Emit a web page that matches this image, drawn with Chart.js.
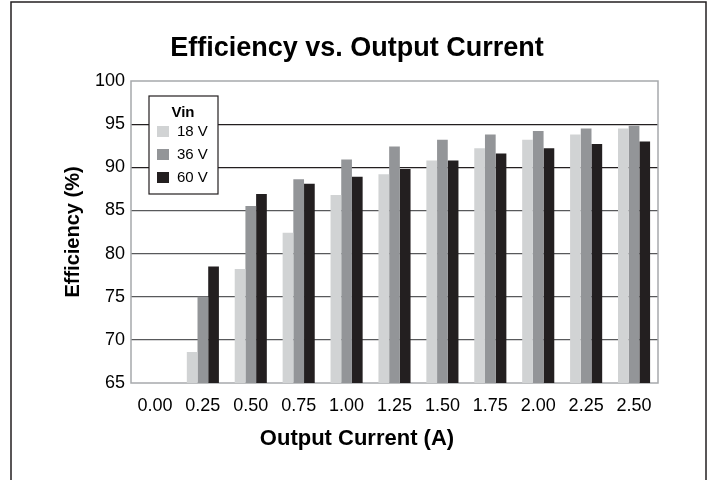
<!DOCTYPE html>
<html>
<head>
<meta charset="utf-8">
<script src="https://cdn.jsdelivr.net/npm/chart.js@4.4.1/dist/chart.umd.min.js"></script>
<style>
  html, body { margin: 0; padding: 0; background: #fff; }
  #wrap { position: relative; width: 714px; height: 480px; }
</style>
</head>
<body>
<div id="wrap"><canvas id="myChart" width="714" height="480"></canvas></div>
<script>
const currents = ["0.00", "0.25", "0.50", "0.75", "1.00", "1.25", "1.50", "1.75", "2.00", "2.25", "2.50"];
const eff18 = [null, 68.6, 78.2, 82.4, 86.8, 89.2, 90.8, 92.2, 93.2, 93.8, 94.5];
const eff36 = [null, 75.0, 85.5, 88.6, 90.9, 92.4, 93.2, 93.8, 94.2, 94.5, 94.8];
const eff60 = [null, 78.5, 86.9, 88.1, 88.9, 89.8, 90.8, 91.6, 92.2, 92.7, 93.0];
const seriesLabels = ["18 V", "36 V", "60 V"];
const yTicks = [65, 70, 75, 80, 85, 90, 95, 100];

const FONT = "'Liberation Sans', Arial, Helvetica, sans-serif";

// plot frame, outer frame and the boxed "Vin" legend
const framePlugin = {
  id: "frame",
  beforeDatasetsDraw(chart) {
    const { ctx, chartArea: a } = chart;
    ctx.save();
    ctx.strokeStyle = "#a7a9ac";
    ctx.lineWidth = 1.5;
    ctx.strokeRect(a.left, a.top, a.right - a.left, a.bottom - a.top);
    ctx.restore();
  },
  afterDraw(chart) {
    const { ctx, chartArea: a } = chart;
    ctx.save();
    ctx.strokeStyle = "#231f20";
    ctx.lineWidth = 1.5;
    ctx.strokeRect(11, 2, 695, 520);

    const bx = a.left + 18, by = a.top + 15, bw = 69, bh = 98;
    ctx.fillStyle = "#fff";
    ctx.fillRect(bx, by, bw, bh);
    ctx.lineWidth = 1.2;
    ctx.strokeRect(bx, by, bw, bh);

    ctx.fillStyle = "#000";
    ctx.textBaseline = "middle";
    ctx.textAlign = "center";
    ctx.font = "bold 15px " + FONT;
    ctx.fillText("Vin", bx + 34, by + 17);

    ctx.textAlign = "left";
    ctx.font = "15px " + FONT;
    chart.data.datasets.forEach((ds, i) => {
      const cy = by + 36 + i * 23;
      ctx.fillStyle = ds.backgroundColor;
      ctx.fillRect(bx + 8, cy - 6, 12, 11);
      ctx.fillStyle = "#000";
      ctx.fillText(ds.label, bx + 28, cy);
    });
    ctx.restore();
  }
};

const gridColor = (ctx) => {
  const v = ctx.tick ? ctx.tick.value : 0;
  if (v === 95 || v === 90) return "#231f20";
  if (v === 100 || v === 65) return "rgba(0,0,0,0)";
  return "#58595b";
};

const ctx = document.getElementById("myChart");
const chart = new Chart(ctx, {
  type: "bar",
  data: {
    labels: currents,
    datasets: [
      { label: seriesLabels[0], data: eff18, backgroundColor: "#d1d3d4" },
      { label: seriesLabels[1], data: eff36, backgroundColor: "#939598" },
      { label: seriesLabels[2], data: eff60, backgroundColor: "#231f20" },
    ],
  },
  options: {
    responsive: false,
    animation: false,
    events: [],
    layout: { padding: 0 },
    datasets: { bar: { categoryPercentage: 0.67, barPercentage: 1.0 } },
    plugins: {
      legend: { display: false },
      tooltip: { enabled: false },
      title: {
        display: true,
        text: "Efficiency vs. Output Current",
        color: "#000",
        font: { family: FONT, size: 27, weight: "bold" },
        padding: { top: 32, bottom: 16.6 },
      },
      subtitle: {
        display: true,
        position: "bottom",
        text: "Output Current (A)",
        color: "#000",
        font: { family: FONT, size: 22, weight: "bold" },
        padding: { top: 0, bottom: 27.8 },
      },
    },
    scales: {
      x: {
        grid: { display: false },
        border: { display: false },
        ticks: { color: "#000", font: { family: FONT, size: 18 }, padding: 4, maxRotation: 0 },
        afterFit(scale) { scale.height = 42.8; },
      },
      y: {
        min: 65,
        max: 100,
        afterBuildTicks(scale) { scale.ticks = yTicks.map((v) => ({ value: v })); },
        grid: { color: gridColor, lineWidth: 1.2, drawTicks: false },
        border: { display: false },
        ticks: { color: "#000", font: { family: FONT, size: 18 }, padding: 6 },
        title: {
          display: true,
          text: "Efficiency (%)",
          color: "#000",
          font: { family: FONT, size: 20, weight: "bold" },
          padding: { top: 61, bottom: 0 },
        },
        afterFit(scale) { scale.width = 131; },
      },
      // empty right-hand spacer so the plot ends at x≈658 while titles stay centred on the page
      yRight: {
        position: "right",
        grid: { display: false },
        border: { display: false },
        ticks: { display: false },
        afterFit(scale) { scale.width = 56; },
      },
    },
  },
  plugins: [framePlugin],
});
</script>
</body>
</html>
